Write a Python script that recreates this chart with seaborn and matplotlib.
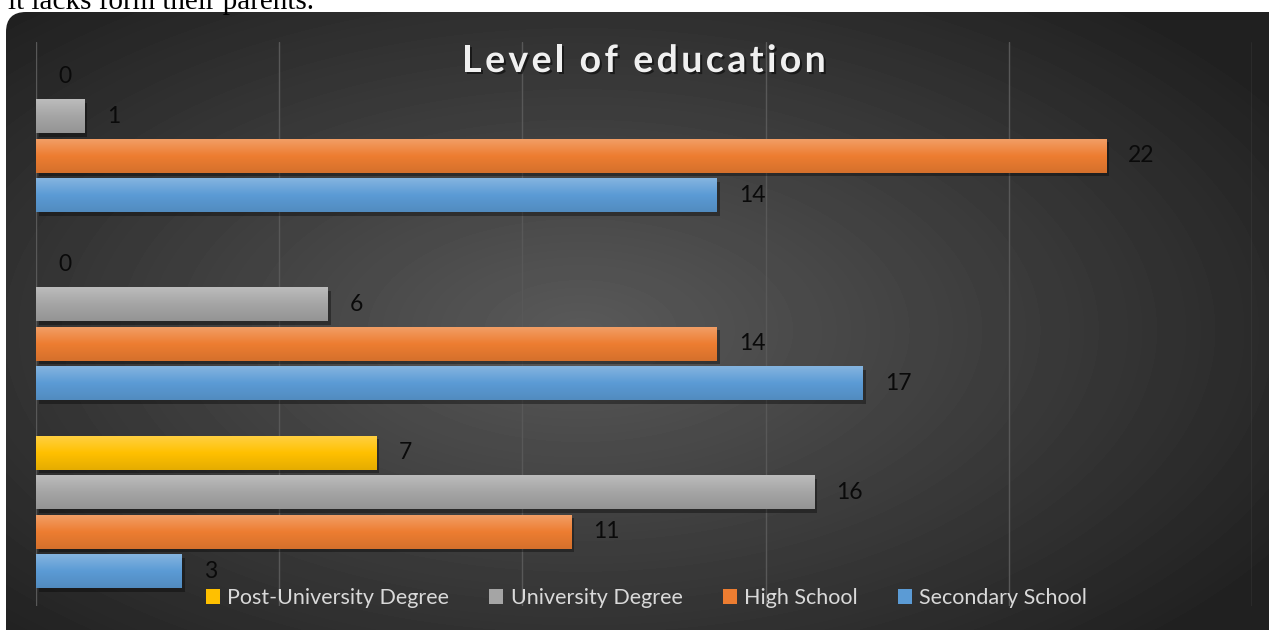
import numpy as np
import pandas as pd
import matplotlib
matplotlib.use('Agg')
import matplotlib.pyplot as plt
import seaborn as sns
from matplotlib.patches import FancyBboxPatch
from matplotlib import patheffects as pe
from matplotlib.colors import to_rgb

# data (groups top to bottom)
groups = ['Group 1', 'Group 2', 'Group 3']
levels = ['Post-University Degree', 'University Degree', 'High School', 'Secondary School']
post_uni = [0, 0, 7]
university = [1, 6, 16]
high_school = [22, 14, 11]
secondary = [14, 17, 3]
colors = ['#FFC000', '#A5A5A5', '#ED7D31', '#5B9BD5']

df = pd.DataFrame({
    'group': groups * 4,
    'level': np.repeat(levels, len(groups)),
    'count': post_uni + university + high_school + secondary,
})

sns.set_style('white')
plt.rcParams['font.family'] = ['Lato', 'DejaVu Sans']

W, H = 1269, 630
fig = plt.figure(figsize=(W / 100, H / 100), dpi=100)
fig.patch.set_facecolor('white')

# dark rounded background with radial gradient
bg = fig.add_axes([0, 0, 1, 1])
bg.set_xlim(0, W)
bg.set_ylim(H, 0)
bg.axis('off')
box = FancyBboxPatch((6, 12), W + 30, H + 30, boxstyle='round,pad=0,rounding_size=20',
                     facecolor='none', edgecolor='none')
bg.add_patch(box)
yy, xx = np.mgrid[0:H, 0:W]
d = np.sqrt(((xx - 580) / 820.0) ** 2 + ((yy - 330) / 430.0) ** 2)
val = np.clip(0.35 - 0.22 * d, 0.13, 1)
im = bg.imshow(val, cmap='gray', vmin=0, vmax=1, extent=(0, W, H, 0), aspect='auto')
im.set_clip_path(box)

fig.text(8 / W, 1 - 9 / H, 'it lacks form their parents.', family='Liberation Serif',
         fontsize=21, va='baseline', ha='left', color='black')

ax = fig.add_axes([36 / W, 1 - 606 / H, (1252 - 36) / W, (606 - 42) / H])
ax.patch.set_alpha(0)
sns.barplot(data=df, y='group', x='count', hue='level', hue_order=levels, palette=colors,
            orient='h', width=0.84, gap=0.14, saturation=1, linewidth=0, ax=ax)

shadow = [pe.SimplePatchShadow(offset=(2, -2.5), shadow_rgbFace='black', alpha=0.35), pe.Normal()]
for cont, col in zip(ax.containers, colors):
    base = np.array(to_rgb(col))
    top = base + (1 - base) * 0.25
    bot = base * 0.9
    t = np.linspace(0, 1, 32)[:, None]
    grad = np.where(t < 0.5, top + (base - top) * (t / 0.5), base + (bot - base) * ((t - 0.5) / 0.5))
    grad = grad[:, None, :]
    for bar in cont:
        bar.set_path_effects(shadow)
        if bar.get_width() > 0:
            x0, y0 = bar.get_x(), bar.get_y()
            gi = ax.imshow(grad, extent=(x0, x0 + bar.get_width(), y0 + bar.get_height(), y0),
                           aspect='auto', origin='upper', interpolation='bilinear', zorder=bar.get_zorder() + 0.1)
            gi.set_clip_path(bar)
    ax.bar_label(cont, padding=16, fontsize=16.5, color='#0a0a0a')

ax.set_xlim(0, 25)
ax.set_ylim(2.5, -0.5)
ax.set_xticks(range(0, 26, 5))
ax.set_xticklabels([])
ax.set_yticks([])
ax.set_xlabel('')
ax.set_ylabel('')
ax.xaxis.grid(True, color='#585858', linewidth=1)
ax.set_axisbelow(True)
ax.tick_params(length=0)
for s in ax.spines.values():
    s.set_visible(False)

leg = ax.legend(loc='center', bbox_to_anchor=(0.502, 0.014), ncol=4, frameon=False,
                labelcolor='#d9d9d9', fontsize=15.5, handlelength=0.65, handleheight=0.65,
                handletextpad=0.35, columnspacing=1.85)

# title with letter spacing, placed char by char
title = 'Level of education'
tkw = dict(fontsize=27, fontweight='bold', color='#f0f0f0', va='center', ha='left',
           path_effects=[pe.withSimplePatchShadow(offset=(1.5, -1.5), shadow_rgbFace='black', alpha=0.5)])
renderer = fig.canvas.get_renderer()
spacing = 3.4
widths = []
for ch in title:
    tt = fig.text(0, 0, ch if ch != ' ' else 'a', **tkw)
    w = tt.get_window_extent(renderer).width
    if ch == ' ':
        w *= 0.45
    widths.append(w)
    tt.remove()
total = sum(widths) + spacing * (len(title) - 1)
x = 644 - total / 2
for ch, w in zip(title, widths):
    if ch != ' ':
        fig.text(x / W, 1 - 61 / H, ch, **tkw)
    x += w + spacing

fig.savefig('out.png', dpi=100)
